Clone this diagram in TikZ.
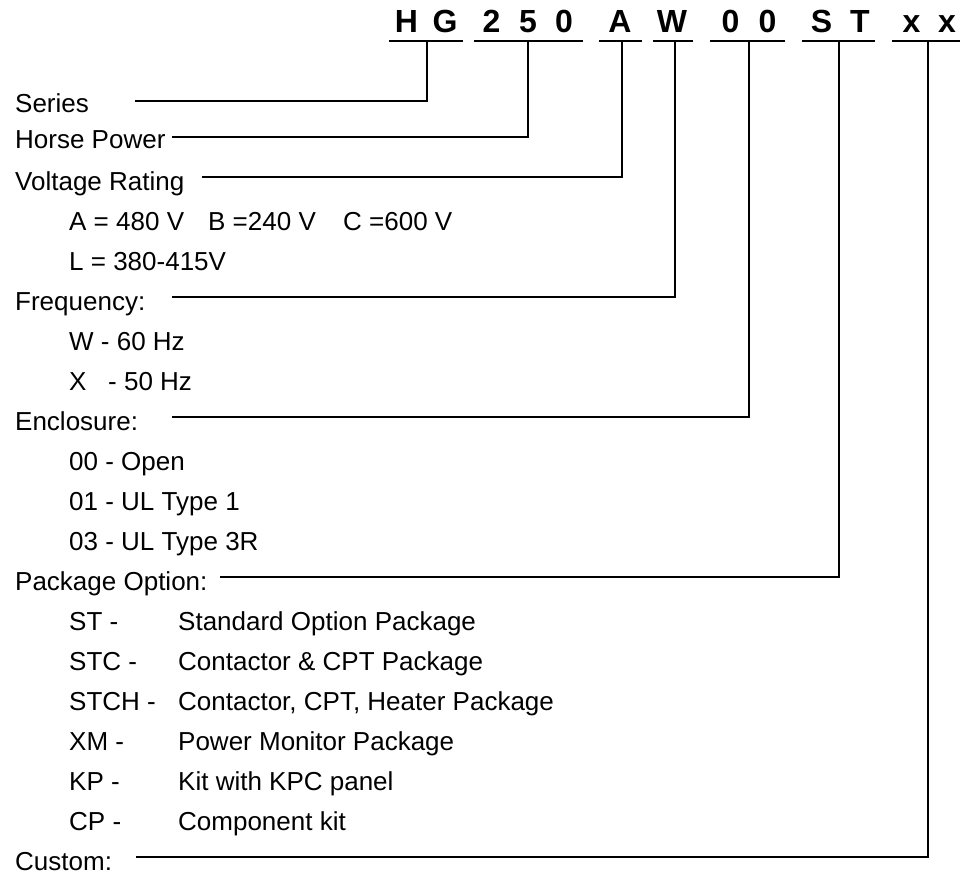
\documentclass[tikz,border=0pt]{standalone}
\usepackage{fontspec}
\setmainfont{Liberation Sans}
\begin{document}
\begin{tikzpicture}[x=1pt,y=-1pt,
  lbl/.style={anchor=base west,inner sep=0pt,font=\fontsize{26}{30}\selectfont},
  code/.style={anchor=base,inner sep=0pt,font=\fontsize{32}{36}\selectfont\bfseries},
  wire/.style={line width=1.3pt,black}]
\useasboundingbox (0,0) rectangle (961,876);
% code letters
\foreach \n/\x/\t in {h/406.5/H,g/445/G,d2/491.5/2,d5/528/5,d0/564/0,a/620/A,w/672/W,z1/730.5/0,z2/767.5/0,s/821.5/S,t/860/T,x1/911.5/x,x2/947/x}
  \node[code] (\n) at (\x,32) {\t};
% underlines
\foreach \n/\a/\b in {u1/389/463,u2/474/583,u3/599/642,u4/653/693,u5/710/785,u6/802/875,u7/892/960}{
  \coordinate (\n l) at (\a,41);
  \coordinate (\n r) at (\b,41);
  \draw[wire] (\n l) -- (\n r);
}
% labels
\node[lbl] (series) at (15,112) {Series};
\node[lbl] (hp) at (15,148) {Horse Power};
\node[lbl] (volt) at (15,190) {Voltage Rating};
\node[lbl] (v1) at (69,230) {\makebox[139pt][l]{A = 480 V}\makebox[135pt][l]{B =240 V}C =600 V};
\node[lbl] (v2) at (69,270) {L = 380-415V};
\node[lbl] (freq) at (15,310) {Frequency:};
\node[lbl] (f1) at (69,350) {W - 60 Hz};
\node[lbl] (f2) at (69,390) {\makebox[39pt][l]{X}- 50 Hz};
\node[lbl] (encl) at (15,430) {Enclosure:};
\node[lbl] (e1) at (69,470) {00 - Open};
\node[lbl] (e2) at (69,510) {01 - UL Type 1};
\node[lbl] (e3) at (69,550) {03 - UL Type 3R};
\node[lbl] (pkg) at (15,590) {Package Option:};
\node[lbl] (p1) at (69,630) {\makebox[109pt][l]{ST -}Standard Option Package};
\node[lbl] (p2) at (69,670) {\makebox[109pt][l]{STC -}Contactor \& CPT Package};
\node[lbl] (p3) at (69,710) {\makebox[109pt][l]{STCH -}Contactor, CPT, Heater Package};
\node[lbl] (p4) at (69,750) {\makebox[109pt][l]{XM -}Power Monitor Package};
\node[lbl] (p5) at (69,790) {\makebox[109pt][l]{KP -}Kit with KPC panel};
\node[lbl] (p6) at (69,830) {\makebox[109pt][l]{CP -}Component kit};
\node[lbl] (cust) at (15,870) {Custom:};
% connectors
\foreach \s/\u/\x/\y in {c1/u1/427/101,c2/u2/528/137,c3/u3/622/177,c4/u4/675/297,c5/u5/749/417,c6/u6/839/577,c7/u7/928/857}{
  \coordinate (\s top) at (\x,41);
  \coordinate (\s bend) at (\x,\y);
}
\coordinate (c1s) at (135,101);
\coordinate (c2s) at (172,137);
\coordinate (c3s) at (202,177);
\coordinate (c4s) at (172,297);
\coordinate (c5s) at (172,417);
\coordinate (c6s) at (220,577);
\coordinate (c7s) at (136,857);
\foreach \s in {c1,c2,c3,c4,c5,c6,c7}
  \draw[wire] (\s s) -- (\s bend) -- (\s top);
\end{tikzpicture}
\end{document}
